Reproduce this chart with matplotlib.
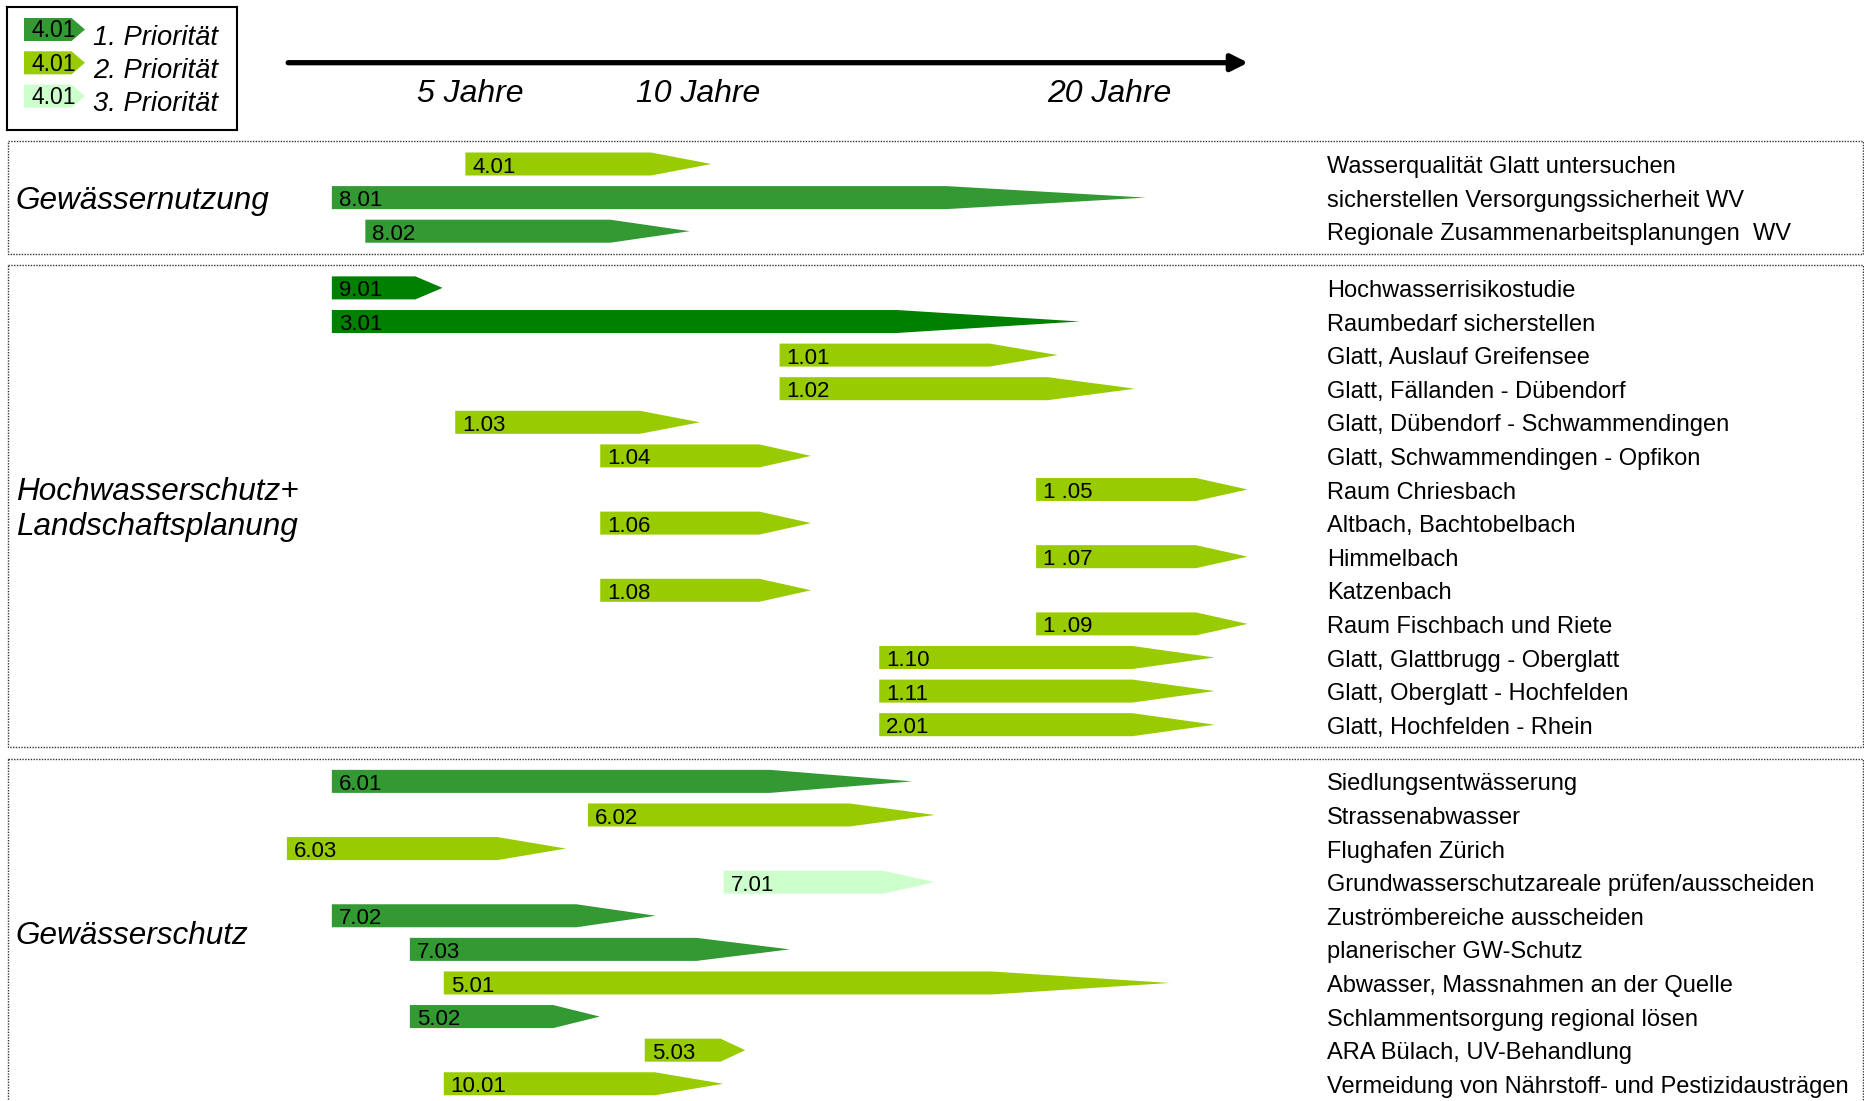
import matplotlib.pyplot as plt
from matplotlib.patches import Polygon, Rectangle

plt.rcParams['font.family'] = ['Liberation Sans', 'DejaVu Sans']

# Zeitachse (Jahre)
achse_von, achse_bis = 0.57, 23.21
jahre_pos = [4.86, 10.24, 19.93]
jahre_txt = ['5 Jahre', '10 Jahre', '20 Jahre']

# Farben je Priorität (0 = dunkelgrün für 9.01 / 3.01)
FARBEN = {0: '#008000', 1: '#339933', 2: '#99CC00', 3: '#CCFFCC'}
legende_prio = [1, 2, 3]
legende_txt = ['1. Priorität', '2. Priorität', '3. Priorität']

# Gewässernutzung
nutz_nr = ['4.01', '8.01', '8.02']
nutz_von = [4.75, 1.60, 2.39]
nutz_bis = [10.55, 20.80, 10.04]
nutz_prio = [2, 1, 1]
nutz_txt = ['Wasserqualität Glatt untersuchen',
            'sicherstellen Versorgungssicherheit WV',
            'Regionale Zusammenarbeitsplanungen  WV']

# Hochwasserschutz + Landschaftsplanung
hws_nr = ['9.01', '3.01', '1.01', '1.02', '1.03', '1.04', '1 .05', '1.06',
          '1 .07', '1.08', '1 .09', '1.10', '1.11', '2.01']
hws_von = [1.60, 1.60, 12.16, 12.16, 4.51, 7.93, 18.21, 7.93,
           18.21, 7.93, 18.21, 14.51, 14.51, 14.51]
hws_bis = [4.21, 19.24, 18.72, 20.54, 10.28, 12.90, 23.20, 12.90,
           23.20, 12.90, 23.20, 22.42, 22.42, 22.42]
hws_prio = [0, 0, 2, 2, 2, 2, 2, 2, 2, 2, 2, 2, 2, 2]
hws_txt = ['Hochwasserrisikostudie', 'Raumbedarf sicherstellen',
           'Glatt, Auslauf Greifensee', 'Glatt, Fällanden - Dübendorf',
           'Glatt, Dübendorf - Schwammendingen', 'Glatt, Schwammendingen - Opfikon',
           'Raum Chriesbach', 'Altbach, Bachtobelbach', 'Himmelbach', 'Katzenbach',
           'Raum Fischbach und Riete', 'Glatt, Glattbrugg - Oberglatt',
           'Glatt, Oberglatt - Hochfelden', 'Glatt, Hochfelden - Rhein']

# Gewässerschutz
gs_nr = ['6.01', '6.02', '6.03', '7.01', '7.02', '7.03', '5.01', '5.02', '5.03', '10.01']
gs_von = [1.60, 7.64, 0.54, 10.84, 1.60, 3.44, 4.24, 3.44, 8.98, 4.24]
gs_bis = [15.29, 15.82, 7.12, 15.82, 9.24, 12.40, 21.36, 7.92, 11.35, 10.83]
gs_prio = [1, 2, 2, 3, 1, 1, 2, 1, 2, 2]
gs_txt = ['Siedlungsentwässerung', 'Strassenabwasser', 'Flughafen Zürich',
          'Grundwasserschutzareale prüfen/ausscheiden', 'Zuströmbereiche ausscheiden',
          'planerischer GW-Schutz', 'Abwasser, Massnahmen an der Quelle',
          'Schlammentsorgung regional lösen', 'ARA Bülach, UV-Behandlung',
          'Vermeidung von Nährstoff- und Pestizidausträgen']

bloecke = [
    ('Gewässernutzung', nutz_nr, nutz_von, nutz_bis, nutz_prio, nutz_txt),
    ('Hochwasserschutz+\nLandschaftsplanung', hws_nr, hws_von, hws_bis, hws_prio, hws_txt),
    ('Gewässerschutz', gs_nr, gs_von, gs_bis, gs_prio, gs_txt),
]

H = 0.685     # Pfeilhöhe (Zeilen)
GAP = 0.687   # Abstand zwischen Blöcken
PAD = 0.67    # Rahmen um Block


def pfeil(ax, x0, x1, y, h, farbe, spitze=0.245):
    xs = x1 - spitze * (x1 - x0)
    pts = [(x0, y - h / 2), (xs, y - h / 2), (x1, y), (xs, y + h / 2), (x0, y + h / 2)]
    ax.add_patch(Polygon(pts, closed=True, fc=farbe, ec='none'))


fig = plt.figure(figsize=(18.65, 11.01), dpi=100)
ax = fig.add_axes([0, 0, 1, 1])
ax.set_xlim(-264 / 42.4, (1865 - 264) / 42.4)
ax.set_ylim((1101 - 164) / 33.6, -164 / 33.6)
ax.axis('off')
trans = ax.get_yaxis_transform()

# Zeitpfeil oben
ax.annotate('', xy=(achse_bis, -3.015), xytext=(achse_von, -3.015),
            arrowprops=dict(arrowstyle='-|>,head_length=0.5,head_width=0.25',
                            lw=3.8, color='black', shrinkA=0, shrinkB=0,
                            mutation_scale=20))
for x, t in zip(jahre_pos, jahre_txt):
    ax.text(x, -1.845, t, ha='center', va='baseline', fontsize=23, style='italic')

y0 = 0
for titel, nr, von, bis, prio, txt in bloecke:
    n = len(nr)
    for i in range(n):
        y = y0 + i
        pfeil(ax, von[i], bis[i], y, H, FARBEN[prio[i]])
        ax.annotate(nr[i], (von[i], y), xytext=(5, -6.2), textcoords='offset points',
                    fontsize=16, va='baseline')
        ax.annotate(txt[i], (0.7115, y), xycoords=trans, xytext=(0, -6.5),
                    textcoords='offset points', fontsize=17, va='baseline')
    ax.add_patch(Rectangle((0.0045, y0 - PAD), 0.9942, n - 1 + 2 * PAD, transform=trans,
                           fill=False, ec='#333333', lw=1.0, ls=(0, (1, 1))))
    ax.text(0.0085, y0 + (n - 1) / 2 + 0.1, titel, transform=trans, fontsize=22.7,
            style='italic', va='center', ha='left', linespacing=1.2)
    y0 += n + GAP

# Legende (Pixelkoordinaten innerhalb des Kastens)
lax = fig.add_axes([7.3 / 1865, 1 - 130 / 1101, 230 / 1865, 123.3 / 1101])
lax.set_xlim(7.3, 237.3)
lax.set_ylim(130, 6.7)
lax.set_xticks([])
lax.set_yticks([])
for s in lax.spines.values():
    s.set_linewidth(1.5)
for i, (p, t) in enumerate(zip(legende_prio, legende_txt)):
    yc = 29.5 + 33.3 * i
    pfeil(lax, 24, 85, yc, 23, FARBEN[p], spitze=0.22)
    lax.text(31.5, yc + 8, '4.01', fontsize=16.5, va='baseline')
    lax.text(93, yc + 15.3, t, fontsize=19.7, style='italic', va='baseline')

fig.savefig('out.png', dpi=100)
